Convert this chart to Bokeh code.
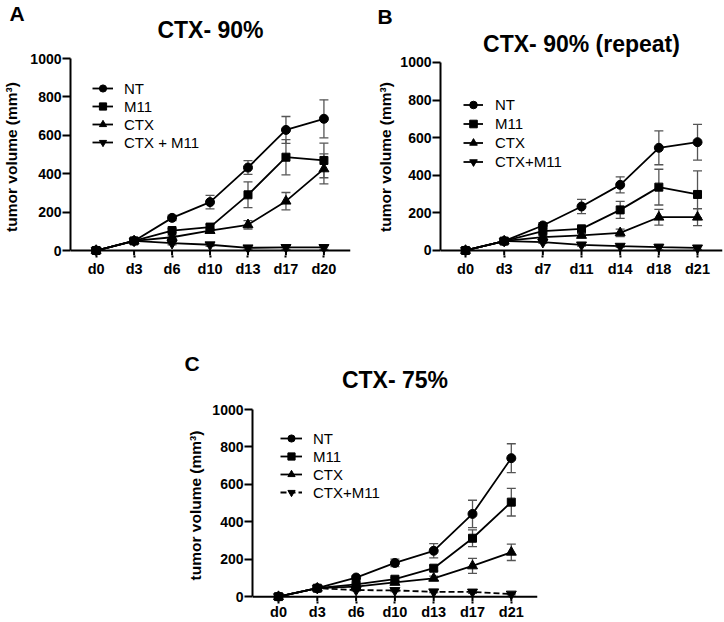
from bokeh.plotting import figure
from bokeh.models import (Range1d, FixedTicker, Span, Whisker, TeeHead, ColumnDataSource,
                          Legend, LegendItem, Title, LinearAxis, Spacer)
from bokeh.layouts import column, row
from bokeh.embed import file_html
from bokeh.resources import INLINE

FONT = "Liberation Sans"

# ---------------- data ----------------
series_names = ["NT", "M11", "CTX", "CTX+M11"]
y_ticks = [0, 200, 400, 600, 800, 1000]

# Panel A: CTX- 90%
days_a = ["d0", "d3", "d6", "d10", "d13", "d17", "d20"]
nt_a = [0, 50, 170, 252, 432, 628, 686]
nt_a_err = [0, 5, 14, 35, 36, 70, 99]
m11_a = [0, 50, 104, 122, 290, 486, 469]
m11_a_err = [0, 5, 10, 14, 67, 92, 90]
ctx_a = [0, 50, 69, 104, 134, 257, 425]
ctx_a_err = [0, 5, 8, 10, 22, 45, 78]
combo_a = [0, 50, 38, 30, 14, 16, 16]
combo_a_err = [0, 5, 8, 8, 10, 10, 10]

# Panel B: CTX- 90% (repeat)
days_b = ["d0", "d3", "d7", "d11", "d14", "d18", "d21"]
nt_b = [0, 50, 133, 234, 349, 546, 576]
nt_b_err = [0, 5, 15, 38, 43, 90, 95]
m11_b = [0, 50, 103, 115, 216, 337, 298]
m11_b_err = [0, 5, 10, 12, 45, 95, 125]
ctx_b = [0, 50, 71, 80, 94, 177, 177]
ctx_b_err = [0, 5, 8, 10, 20, 42, 45]
combo_b = [0, 50, 44, 30, 23, 18, 14]
combo_b_err = [0, 5, 6, 6, 6, 15, 8]

# Panel C: CTX- 75%
days_c = ["d0", "d3", "d6", "d10", "d13", "d17", "d21"]
nt_c = [0, 45, 102, 180, 245, 442, 740]
nt_c_err = [0, 5, 10, 20, 38, 73, 77]
m11_c = [0, 45, 66, 93, 152, 312, 505]
m11_c_err = [0, 5, 6, 10, 15, 45, 74]
ctx_c = [0, 45, 53, 76, 98, 164, 237]
ctx_c_err = [0, 5, 5, 8, 12, 40, 44]
combo_c = [0, 45, 35, 33, 26, 25, 14]
combo_c_err = [0, 5, 5, 6, 5, 8, 5]

MARKERS = [("circle", 9), ("square", 8), ("triangle", 10), ("inverted_triangle", 10)]


def make_panel(letter, title, days, vals, errs, labels, combo_dash, g):
    y0, y1 = g["yr"]
    p = figure(width=g["W"], height=g["H"], output_backend="svg", toolbar_location=None,
               title=None,
               x_range=Range1d(g["xs"], g["xe"]), y_range=Range1d(y0, y1),
               min_border_left=g["mbl"], min_border_right=g["mbr"],
               min_border_top=g["mbt"], min_border_bottom=g["mbb"])
    p.outline_line_color = None
    p.grid.visible = False
    p.background_fill_color = "white"

    idx = list(range(len(days)))
    # y axis
    p.yaxis.ticker = FixedTicker(ticks=y_ticks)
    p.yaxis.bounds = (0, 1000)
    p.yaxis.axis_line_width = 2
    p.yaxis.major_tick_line_width = 2
    p.yaxis.major_tick_out = 8
    p.yaxis.major_tick_in = 0
    p.yaxis.minor_tick_line_color = None
    p.yaxis.major_label_standoff = 1
    p.yaxis.major_label_text_font = FONT
    p.yaxis.major_label_text_font_style = "bold"
    p.yaxis.major_label_text_font_size = "14px"
    p.yaxis.major_label_text_color = "black"
    p.yaxis.axis_label = "tumor volume (mm³)"
    p.yaxis.axis_label_text_font = FONT
    p.yaxis.axis_label_text_font_style = "bold"
    p.yaxis.axis_label_text_font_size = "15.5px"
    p.yaxis.axis_label_text_color = "black"
    p.yaxis.axis_label_standoff = g["ylab"]

    # x axis (labels + outer tick part); the axis line itself is drawn at y=0
    p.xaxis.ticker = FixedTicker(ticks=idx)
    p.xaxis.major_label_overrides = {i: d for i, d in zip(idx, days)}
    p.xaxis.axis_line_alpha = 0
    p.xaxis.major_tick_out = 2
    p.xaxis.major_tick_in = 0
    p.xaxis.major_tick_line_width = 2
    p.xaxis.minor_tick_line_color = None
    p.xaxis.major_label_standoff = g["xstand"]
    p.xaxis.major_label_text_font = FONT
    p.xaxis.major_label_text_font_style = "bold"
    p.xaxis.major_label_text_font_size = "14.5px"
    p.xaxis.major_label_text_color = "black"

    p.segment(x0=idx, y0=[0] * len(idx), x1=idx, y1=[y0] * len(idx),
              line_color="black", line_width=2)
    p.add_layout(Span(location=0, dimension="width", line_color="black", line_width=2))

    items = []
    for k, (v, e, lab) in enumerate(zip(vals, errs, labels)):
        src = ColumnDataSource(dict(x=idx, y=v,
                                    upper=[a + b for a, b in zip(v, e)],
                                    lower=[a - b for a, b in zip(v, e)]))
        p.add_layout(Whisker(source=src, base="x", upper="upper", lower="lower",
                             line_color="#555555", line_width=1.3,
                             upper_head=TeeHead(size=9, line_color="#555555", line_width=1.3),
                             lower_head=TeeHead(size=9, line_color="#555555", line_width=1.3)))
        dash = combo_dash if k == 3 else "solid"
        lr = p.line("x", "y", source=src, line_color="black", line_width=1.8, line_dash=dash)
        mk, sz = MARKERS[k]
        sr = p.scatter("x", "y", source=src, marker=mk, size=sz, fill_color="black",
                       line_color="black")
        items.append(LegendItem(label=lab, renderers=[lr, sr]))

    leg = Legend(items=items, location=g["leg"], spacing=0, padding=0, margin=0,
                 label_height=g["row"], glyph_height=g["row"], glyph_width=g["gw"],
                 label_standoff=g["ls"], label_text_font=FONT,
                 label_text_font_size="15px", label_text_color="black",
                 border_line_alpha=0, background_fill_alpha=0)
    p.add_layout(leg)

    # title as the label of an empty axis above the frame
    tax = LinearAxis(ticker=FixedTicker(ticks=[]), axis_label=title,
                     axis_label_text_font=FONT, axis_label_text_font_style="bold",
                     axis_label_text_font_size="23px", axis_label_text_color="black",
                     axis_label_standoff=g["tstand"], axis_line_color=None,
                     major_tick_out=0, major_tick_in=0, minor_tick_out=0, minor_tick_in=0,
                     major_label_standoff=0)
    p.add_layout(tax, "above")
    # panel letter
    p.add_layout(Title(text=letter, align="left", offset=g["loff"], vertical_align=g["lva"],
                       standoff=g["lstand"], text_font=FONT, text_font_style="bold",
                       text_font_size="21px", text_color="black"), "above")
    return p


geom_a = dict(W=360, H=290, mbl=66, mbr=10, mbt=58, mbb=35, xs=-0.675, xe=6.70,
              yr=(-26, 1000),
              ylab=7, xstand=3, leg=(22, 104), row=18, gw=21, ls=11,
              tstand=16, loff=-61, lva="middle", lstand=-24)
geom_b = dict(W=364, H=290, mbl=80, mbr=2, mbt=58, mbb=35, xs=-0.647, xe=6.646,
              yr=(-26.6, 1021),
              ylab=3, xstand=3, leg=(23, 84), row=19, gw=20, ls=12,
              tstand=2, loff=-63, lva="top", lstand=-5)
geom_c = dict(W=380, H=332, mbl=72, mbr=23, mbt=119, mbb=18, xs=-0.67, xe=6.675,
              yr=(-26, 1000),
              ylab=5, xstand=0, leg=(28, 100), row=18, gw=22, ls=11,
              tstand=17, loff=-68, lva="middle", lstand=-25)

pA = make_panel("A", "CTX- 90%", days_a,
                [nt_a, m11_a, ctx_a, combo_a], [nt_a_err, m11_a_err, ctx_a_err, combo_a_err],
                ["NT", "M11", "CTX", "CTX + M11"], "solid", geom_a)
pB = make_panel("B", "CTX- 90% (repeat)", days_b,
                [nt_b, m11_b, ctx_b, combo_b], [nt_b_err, m11_b_err, ctx_b_err, combo_b_err],
                series_names, "solid", geom_b)
pC = make_panel("C", "CTX- 75%", days_c,
                [nt_c, m11_c, ctx_c, combo_c], [nt_c_err, m11_c_err, ctx_c_err, combo_c_err],
                series_names, "6 3", geom_c)

layout = column(row(pA, pB), row(Spacer(width=180, height=332), pC))

open("out.html", "w").write(file_html(layout, INLINE))
